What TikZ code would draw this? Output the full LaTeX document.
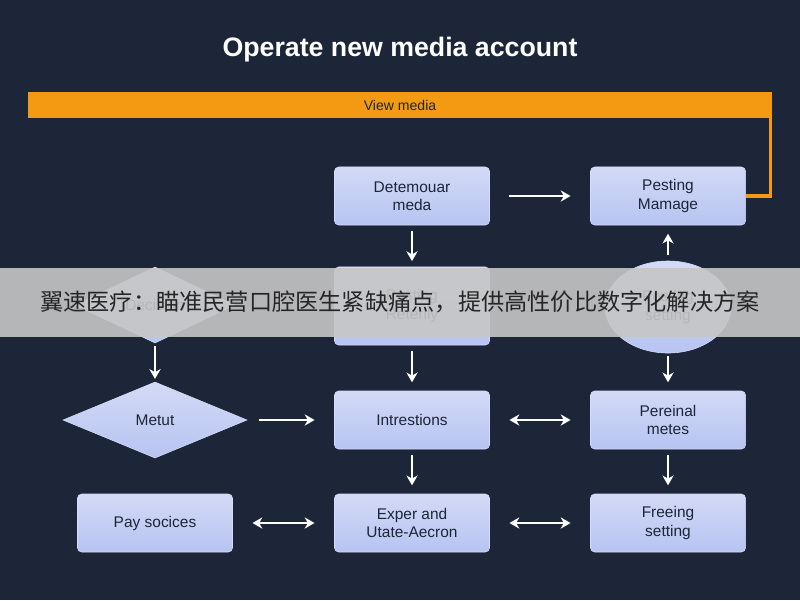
\documentclass[tikz,border=0pt]{standalone}
\usepackage{fontspec}
\setmainfont{Liberation Sans}
\newfontfamily\cjk{Noto Sans CJK SC}
\usetikzlibrary{shapes.geometric,arrows.meta}
\definecolor{bgdark}{HTML}{1C2638}
\definecolor{boxtop}{HTML}{D3DAF6}
\definecolor{boxbot}{HTML}{B7C4F2}
\definecolor{barorange}{HTML}{F39A12}
\tikzset{
  stage/.style={draw=boxbot!60!white, rectangle, rounded corners=3pt, top color=boxtop, bottom color=boxbot,
    minimum width=3.875cm, minimum height=1.45cm, align=center, font=\fontsize{11}{13}\selectfont, text=bgdark},
  choice/.style={stage, diamond, rounded corners=0pt, aspect=2.3, minimum width=4.6cm, minimum height=1.9cm, inner sep=0pt},
  flow/.style={-{Stealth[length=7pt,width=8pt]}, draw=white, line width=1.8pt},
  both/.style={{Stealth[length=7pt,width=8pt]}-{Stealth[length=7pt,width=8pt]}, draw=white, line width=1.8pt}
}
\begin{document}
\begin{tikzpicture}[x=0.025cm, y=-0.025cm]
        \fill[bgdark] (0,0) rectangle (800,600);
        % Title and bar
        \node[text=white, font=\fontsize{19}{22}\selectfont\bfseries] (title) at (400,50) {Operate new media account};
        \node[fill=barorange, minimum width=18.6cm, minimum height=0.65cm, font=\fontsize{10}{12}\selectfont, text=bgdark] (bar) at (400,105) {View media};
        % Nodes
        \node[stage] (demo) at (412,196) {Detemouar\\meda};
        \node[stage] (pest) at (668,196) {Pesting\\Mamage};
        \node[choice, minimum width=4cm, minimum height=1.9cm] (dec) at (155,305) {Decision};
        \node[stage, minimum height=1.95cm] (ret) at (412,306) {Posting\\Reterlly};
        \node[stage, ellipse, minimum width=3.15cm, minimum height=2.3cm] (set) at (668,307) {Posting\\setting};
        \node[choice] (metut) at (155,420) {Metut};
        \node[stage] (intr) at (412,420) {Intrestions};
        \node[stage] (pere) at (668,420) {Pereinal\\metes};
        \node[stage] (pay) at (155,523) {Pay socices};
        \node[stage] (exper) at (412,523) {Exper and\\Utate-Aecron};
        \node[stage] (free) at (668,523) {Freeing\\setting};

        % Arrows
        \coordinate (bend) at ([xshift=-1.5pt]bar.south east);
        \draw[barorange, line width=2.5pt] (bend) |- (pest.east);
        \draw[flow] ([xshift=14pt]demo.east) -- ([xshift=-14pt]pest.west);
        \draw[flow] ([yshift=-4pt]demo.south) -- ([yshift=4pt]ret.north);
        \draw[flow] ([yshift=4pt]set.north) -- ([yshift=-6pt]pest.south);
        \draw[flow] ([yshift=-4pt]ret.south) -- ([yshift=6pt]intr.north);
        \draw[flow] ([yshift=-2pt]set.south) -- ([yshift=6pt]pere.north);
        \draw[flow] ([yshift=-2pt]dec.south) -- ([yshift=2pt]metut.north);
        \draw[flow] ([xshift=8pt]metut.east) -- ([xshift=-14pt]intr.west);
        \draw[both] ([xshift=14pt]intr.east) -- ([xshift=-14pt]pere.west);
        \draw[flow] ([yshift=-4pt]intr.south) -- ([yshift=6pt]exper.north);
        \draw[flow] ([yshift=-4pt]pere.south) -- ([yshift=6pt]free.north);
        \draw[both] ([xshift=14pt]pay.east) -- ([xshift=-14pt]exper.west);
        \draw[both] ([xshift=14pt]exper.east) -- ([xshift=-14pt]free.west);

        % Banner
        \fill[gray!45, opacity=0.9] (0,268) rectangle (800,337);
        \node[text=black!85, font=\cjk\fontsize{16.5}{18}\selectfont] (banner) at (400,302) {翼速医疗：瞄准民营口腔医生紧缺痛点，提供高性价比数字化解决方案};
\end{tikzpicture}
\end{document}
